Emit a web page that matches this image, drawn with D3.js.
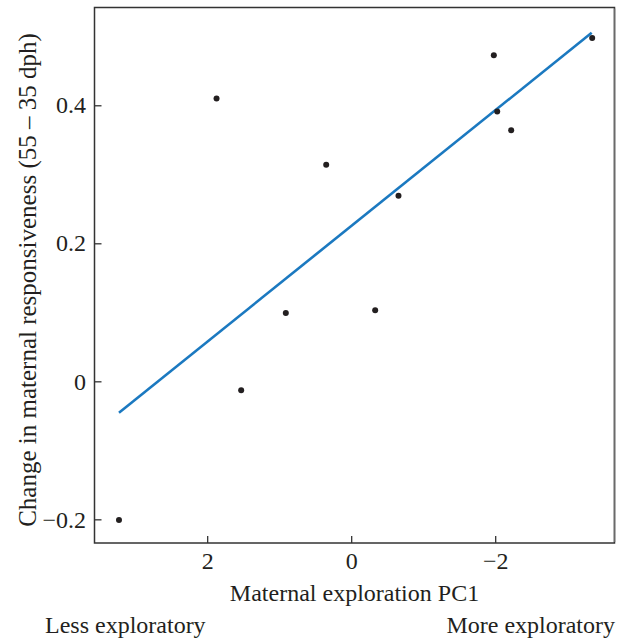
<!DOCTYPE html>
<html lang="en">
<head>
<meta charset="utf-8">
<title>Maternal exploration vs responsiveness</title>
<script src="https://d3js.org/d3.v7.min.js"></script>
<style>
  body { margin: 0; background: #fff; }
  svg { font-family: "Liberation Serif", "DejaVu Serif", serif; }
  .tick text { font-size: 24px; fill: #231f20; }
  .label { font-size: 24px; fill: #231f20; }
</style>
</head>
<body>
<svg width="627" height="642"></svg>
<script>
// data
const pc1 = [3.225, 1.87, 1.528, 0.908, 0.347, -0.333, -0.657, -1.981, -2.028, -2.222, -3.347];
const change = [-0.201, 0.41, -0.013, 0.099, 0.314, 0.103, 0.269, 0.4725, 0.391, 0.364, 0.4975];
const fitX = [3.225, -3.34];
const fitY = [-0.0454, 0.505];
const xTicks = [2, 0, -2];
const yTicks = [-0.2, 0, 0.2, 0.4];

const svg = d3.select("svg");
const plotL = 94.5, plotR = 614.5, plotT = 7.5, plotB = 543;

const x = d3.scaleLinear().domain([3.565, -3.657]).range([plotL, plotR]);
const y = d3.scaleLinear().domain([-0.2343, 0.5417]).range([plotB, plotT]);

const fmt = d => d3.format("")(d).replace("-", "\u2013");

// frame
svg.append("rect")
  .attr("x", plotL).attr("y", plotT)
  .attr("width", plotR - plotL).attr("height", plotB - plotT)
  .attr("fill", "none").attr("stroke", "#333").attr("stroke-width", 1.5);
svg.append("line")
  .attr("x1", plotR).attr("x2", plotR).attr("y1", plotT + 1).attr("y2", plotB - 1)
  .attr("stroke", "#6a6a6a").attr("stroke-width", 1.5);

const xAxis = svg.append("g")
  .attr("transform", `translate(0,${plotB})`)
  .call(d3.axisBottom(x).tickValues(xTicks).tickSizeInner(-7).tickSizeOuter(0).tickPadding(9).tickFormat(fmt));
xAxis.select(".domain").remove();

const yAxis = svg.append("g")
  .attr("transform", `translate(${plotL},0)`)
  .call(d3.axisLeft(y).tickValues(yTicks).tickSizeInner(-7).tickSizeOuter(0).tickPadding(8.5).tickFormat(d => d === 0 ? "0" : fmt(d)));
yAxis.select(".domain").remove();

svg.selectAll("g").attr("font-family", null).attr("font-size", null);
svg.selectAll(".tick line").attr("stroke", "#333").attr("stroke-width", 1.3);

// fitted line
const line = d3.line().x(d => x(d[0])).y(d => y(d[1]));
svg.append("path")
  .datum(d3.zip(fitX, fitY))
  .attr("d", line)
  .attr("fill", "none")
  .attr("stroke", "#1b79c0")
  .attr("stroke-width", 2.6);

// points
svg.selectAll("circle.pt")
  .data(d3.zip(pc1, change))
  .join("circle")
  .attr("class", "pt")
  .attr("cx", d => x(d[0]))
  .attr("cy", d => y(d[1]))
  .attr("r", 3)
  .attr("fill", "#231f20");

// labels
svg.append("text")
  .attr("class", "label")
  .attr("x", (plotL + plotR) / 2).attr("y", 601)
  .attr("text-anchor", "middle")
  .text("Maternal exploration PC1");

svg.append("text")
  .attr("class", "label")
  .attr("x", 45).attr("y", 632.5)
  .text("Less exploratory");

svg.append("text")
  .attr("class", "label")
  .attr("x", 615).attr("y", 632.5)
  .attr("text-anchor", "end")
  .text("More exploratory");

svg.append("text")
  .attr("class", "label")
  .attr("transform", "translate(36,280) rotate(-90)")
  .attr("text-anchor", "middle")
  .style("font-size", "25px")
  .text("Change in maternal responsiveness (55 \u2013 35 dph)");
</script>
</body>
</html>
